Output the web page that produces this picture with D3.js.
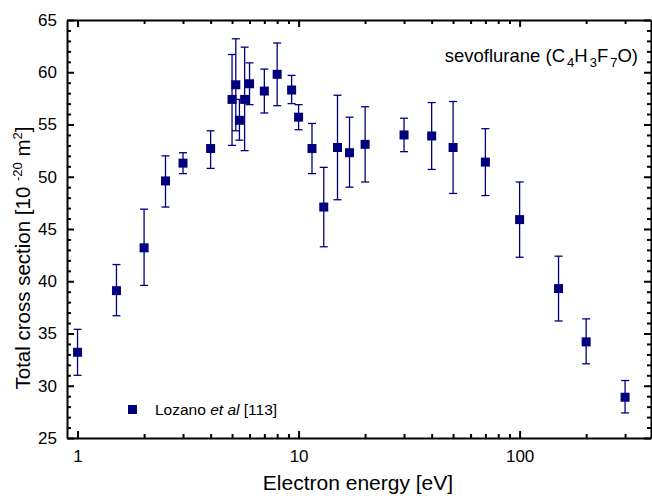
<!DOCTYPE html>
<html><head><meta charset="utf-8">
<script src="https://cdn.jsdelivr.net/npm/d3@7"></script>
<style>
body{margin:0;background:#fff;}
svg text{font-family:Arial,"Liberation Sans",Helvetica,sans-serif;}
</style></head>
<body><svg id="c" width="652" height="498"></svg>
<script>
const energy = [1, 1.5, 2, 2.5, 3, 4, 5, 5.2, 5.4, 5.7, 6, 7, 8, 9.3, 10, 11.5, 13, 15, 17, 20, 30, 40, 50, 70, 100, 150, 200, 300];
const crossSection = [33.2, 39.1, 43.2, 49.6, 51.3, 52.7, 57.4, 58.8, 55.4, 57.4, 58.9, 58.2, 59.8, 58.3, 55.7, 52.7, 47.1, 52.8, 52.3, 53.1, 54.0, 53.9, 52.8, 51.4, 45.9, 39.3, 34.2, 28.9];
const errLow  = [31.0, 36.7, 39.6, 47.1, 50.3, 50.8, 53.0, 54.4, 53.5, 52.5, 56.9, 56.1, 56.8, 57.0, 54.5, 50.3, 43.3, 47.8, 49.0, 49.5, 52.4, 50.7, 48.4, 48.2, 42.3, 36.2, 32.1, 27.4];
const errHigh = [35.4, 41.6, 46.9, 52.0, 52.3, 54.4, 61.7, 63.2, 57.4, 62.4, 60.9, 60.3, 62.8, 59.7, 56.9, 55.1, 50.9, 57.8, 55.7, 56.7, 55.6, 57.1, 57.2, 54.6, 49.5, 42.4, 36.4, 30.5];
const yTicks = [25, 30, 35, 40, 45, 50, 55, 60, 65];
const xTicks = [1, 10, 100];

const svg = d3.select("#c");
const m = {l:67, r:651, t:20, b:438};
const x = d3.scaleLog().domain([0.896, 393]).range([m.l, m.r]);
const y = d3.scaleLinear().domain([25, 65]).range([m.b, m.t]);
const navy = "#00007f";

const xMinor = [];
[1,10,100].forEach(d => { for (let k=2;k<=9;k++){ const v=d*k; if (v<393) xMinor.push(v);} });
const yMinor = d3.range(25, 66, 1).filter(v => v%5 !== 0);

const g = svg.append("g");
const bottom = g.append("g").attr("transform",`translate(0,${m.b})`)
  .call(d3.axisBottom(x).tickValues(xTicks).tickFormat(d3.format("d")).tickSizeInner(-7).tickSizeOuter(0).tickPadding(12));
bottom.selectAll("text").attr("font-size",17).attr("fill","#000");
g.append("g").attr("transform",`translate(0,${m.b})`)
  .call(d3.axisBottom(x).tickValues(xMinor).tickFormat("").tickSizeInner(-4).tickSizeOuter(0))
  .select(".domain").remove();
g.append("g").attr("transform",`translate(0,${m.t})`)
  .call(d3.axisTop(x).tickValues(xTicks).tickFormat("").tickSizeInner(-7).tickSizeOuter(0));
g.append("g").attr("transform",`translate(0,${m.t})`)
  .call(d3.axisTop(x).tickValues(xMinor).tickFormat("").tickSizeInner(-4).tickSizeOuter(0))
  .select(".domain").remove();
const left = g.append("g").attr("transform",`translate(${m.l},0)`)
  .call(d3.axisLeft(y).tickValues(yTicks).tickSizeInner(-7).tickSizeOuter(0).tickPadding(10));
left.selectAll("text").attr("font-size",17).attr("fill","#000");
g.append("g").attr("transform",`translate(${m.l},0)`)
  .call(d3.axisLeft(y).tickValues(yMinor).tickFormat("").tickSizeInner(-4).tickSizeOuter(0))
  .select(".domain").remove();
g.append("g").attr("transform",`translate(${m.r},0)`)
  .call(d3.axisRight(y).tickValues(yTicks).tickFormat("").tickSizeInner(-7).tickSizeOuter(0));
g.append("g").attr("transform",`translate(${m.r},0)`)
  .call(d3.axisRight(y).tickValues(yMinor).tickFormat("").tickSizeInner(-4).tickSizeOuter(0))
  .select(".domain").remove();
g.selectAll(".tick line").attr("stroke","#000").attr("stroke-width",2);
g.selectAll(".domain").attr("stroke","#000").attr("stroke-width",2);

const data = energy.map((e,i)=>({e, v:crossSection[i], lo:errLow[i], hi:errHigh[i]}));
const eb = svg.append("g").attr("stroke",navy).attr("stroke-width",1.3).attr("fill","none");
eb.selectAll("line.v").data(data).join("line").attr("class","v")
  .attr("x1",d=>x(d.e)).attr("x2",d=>x(d.e)).attr("y1",d=>y(d.lo)).attr("y2",d=>y(d.hi));
eb.selectAll("line.t").data(data).join("line").attr("class","t")
  .attr("x1",d=>x(d.e)-4).attr("x2",d=>x(d.e)+4).attr("y1",d=>y(d.hi)).attr("y2",d=>y(d.hi));
eb.selectAll("line.b").data(data).join("line").attr("class","b")
  .attr("x1",d=>x(d.e)-4).attr("x2",d=>x(d.e)+4).attr("y1",d=>y(d.lo)).attr("y2",d=>y(d.lo));
svg.append("g").selectAll("rect").data(data).join("rect")
  .attr("x",d=>x(d.e)-4.5).attr("y",d=>y(d.v)-4.5).attr("width",9).attr("height",9).attr("fill",navy);

svg.append("rect").attr("x",128).attr("y",405).attr("width",9).attr("height",9).attr("fill",navy);
const lt = svg.append("text").attr("x",155).attr("y",415).attr("font-size",15.5).attr("fill","#000");
lt.append("tspan").text("Lozano ");
lt.append("tspan").attr("font-style","italic").text("et al");
lt.append("tspan").text(" [113]");

const tt = svg.append("text").attr("x",638).attr("y",62).attr("text-anchor","end").attr("font-size",18.5).attr("fill","#000");
tt.append("tspan").text("sevoflurane (C");
tt.append("tspan").attr("dx",2).attr("dy",5).attr("font-size",13).text("4");
tt.append("tspan").attr("dy",-5).text("H");
tt.append("tspan").attr("dx",2).attr("dy",5).attr("font-size",13).text("3");
tt.append("tspan").attr("dy",-5).text("F");
tt.append("tspan").attr("dx",2).attr("dy",5).attr("font-size",13).text("7");
tt.append("tspan").attr("dy",-5).text("O)");

svg.append("text").attr("x",358).attr("y",490).attr("text-anchor","middle")
  .attr("font-size",21).attr("fill","#000").text("Electron energy [eV]");
const yl = svg.append("text").attr("transform",`translate(30,258) rotate(-90)`)
  .attr("text-anchor","middle").attr("font-size",20.5).attr("fill","#000");
yl.append("tspan").text("Total cross section [10 ");
yl.append("tspan").attr("dy",-8).attr("font-size",13).text("-20");
yl.append("tspan").attr("dy",8).text(" m");
yl.append("tspan").attr("dy",-8).attr("font-size",13).text("2");
yl.append("tspan").attr("dy",8).text("]");
</script></body></html>
